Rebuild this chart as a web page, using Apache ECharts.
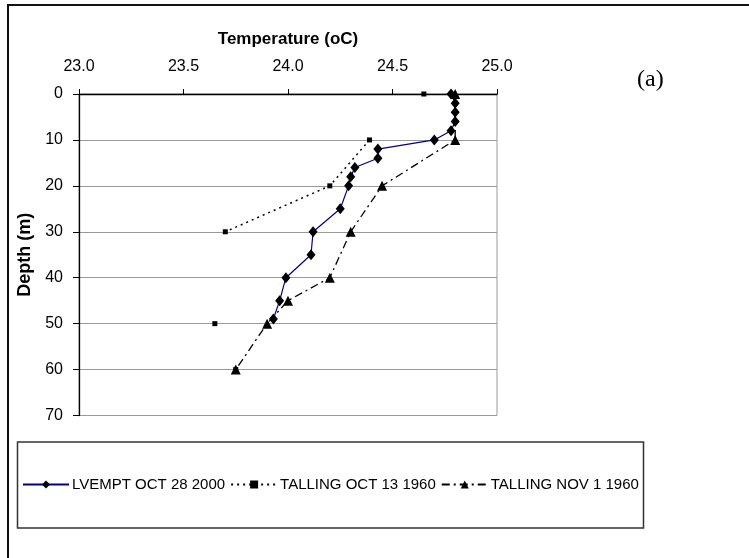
<!DOCTYPE html>
<html>
<head>
<meta charset="utf-8">
<script src="https://cdn.jsdelivr.net/npm/echarts@6/dist/echarts.min.js"></script>
<style>html,body{margin:0;padding:0;background:#fff;}#c{width:749px;height:558px;}</style>
</head>
<body>
<div id="c"></div>
<script>
// ---- data ----
const seriesNames = ['LVEMPT OCT 28 2000', 'TALLING OCT 13 1960', 'TALLING NOV 1 1960'];
const lvDepth = [0, 2, 4, 6, 8, 10, 12, 14, 16, 18, 20, 25, 30, 35, 40, 45, 49];
const lvTemp  = [24.78, 24.80, 24.80, 24.80, 24.78, 24.70, 24.43, 24.43, 24.32, 24.30, 24.29, 24.25, 24.12, 24.11, 23.99, 23.96, 23.93];
const oct13Depth = [0, 5, 10, 20, 30, 40, 50, 55, 60];
const oct13Temp  = [24.65, null, 24.39, 24.20, 23.70, null, 23.65, null, 23.75];
const nov1Depth = [0, 10, 20, 30, 40, 45, 50, 60];
const nov1Temp  = [24.80, 24.80, 24.45, 24.30, 24.20, 24.00, 23.90, 23.75];
const tempTicks = [23.0, 23.5, 24.0, 24.5, 25.0];
const depthTicks = [0, 10, 20, 30, 40, 50, 60, 70];

const FONT = '"Liberation Sans", Arial, sans-serif';
function pairs(t, d) { return t.map((v, i) => [v === null ? '-' : v, d[i]]); }

const chart = echarts.init(document.getElementById('c'), null, {renderer: 'canvas'});
chart.setOption({
  animation: false,
  backgroundColor: '#fff',
  textStyle: {fontFamily: FONT, color: '#000'},
  grid: {left: 79, top: 94, width: 418, height: 321.5, show: true, borderColor: '#999', borderWidth: 1, backgroundColor: 'transparent'},
  xAxis: {
    type: 'value', position: 'top',
    min: tempTicks[0], max: tempTicks[tempTicks.length - 1], interval: 0.5,
    name: 'Temperature (oC)', nameLocation: 'middle', nameGap: 46,
    nameTextStyle: {fontFamily: FONT, fontWeight: 'bold', fontSize: 17, color: '#000'},
    axisLine: {show: true, lineStyle: {color: '#000', width: 1.3}},
    axisTick: {show: true, length: 5, inside: false, lineStyle: {color: '#000'}},
    axisLabel: {fontFamily: FONT, fontSize: 16, color: '#000', margin: 19, formatter: v => v.toFixed(1)},
    splitLine: {show: false}
  },
  yAxis: {
    type: 'value', inverse: true,
    min: depthTicks[0], max: depthTicks[depthTicks.length - 1], interval: 10,
    name: 'Depth (m)', nameLocation: 'middle', nameGap: 44, nameRotate: 90,
    nameTextStyle: {fontFamily: FONT, fontWeight: 'bold', fontSize: 18, color: '#000'},
    axisLine: {show: true, lineStyle: {color: '#000', width: 1.3}},
    axisTick: {show: true, length: 6, lineStyle: {color: '#000'}},
    axisLabel: {fontFamily: FONT, fontSize: 16, color: '#000', margin: 16},
    splitLine: {show: true, lineStyle: {color: '#999', width: 1}}
  },
  legend: {
    left: 22, top: 477, orient: 'horizontal', padding: 0,
    itemWidth: 46, itemHeight: 10, itemGap: 5,
    textStyle: {fontFamily: FONT, fontSize: 15, color: '#000', padding: [0, 0, 0, -2]},
    data: seriesNames
  },
  graphic: [
    {type: 'rect', shape: {x: 8, y: 5, width: 900, height: 900}, style: {fill: null, stroke: '#111', lineWidth: 2}, silent: true, z: -10},
    {type: 'rect', shape: {x: 17.5, y: 442, width: 626, height: 86}, style: {fill: null, stroke: '#333', lineWidth: 1.5}, silent: true},
    {type: 'text', left: 637, top: 68, style: {text: '(a)', font: '24px "Liberation Serif", "Times New Roman", serif', fill: '#000'}}
  ],
  series: [
    {
      name: seriesNames[0], type: 'line', data: pairs(lvTemp, lvDepth),
      symbol: 'diamond', symbolSize: [9, 11],
      itemStyle: {color: '#000'},
      lineStyle: {color: '#000080', width: 1.2, type: 'solid'},
      z: 3
    },
    {
      name: seriesNames[1], type: 'line', data: pairs(oct13Temp, oct13Depth),
      connectNulls: false,
      symbol: 'rect', symbolSize: 5,
      itemStyle: {color: '#000'},
      lineStyle: {color: '#000', width: 1.5, type: [2, 4]},
      z: 2
    },
    {
      name: seriesNames[2], type: 'line', data: pairs(nov1Temp, nov1Depth),
      symbol: 'triangle', symbolSize: 10,
      itemStyle: {color: '#000'},
      lineStyle: {color: '#000', width: 1.3, type: [8, 4, 2, 4]},
      z: 4
    }
  ]
});
</script>
</body>
</html>
